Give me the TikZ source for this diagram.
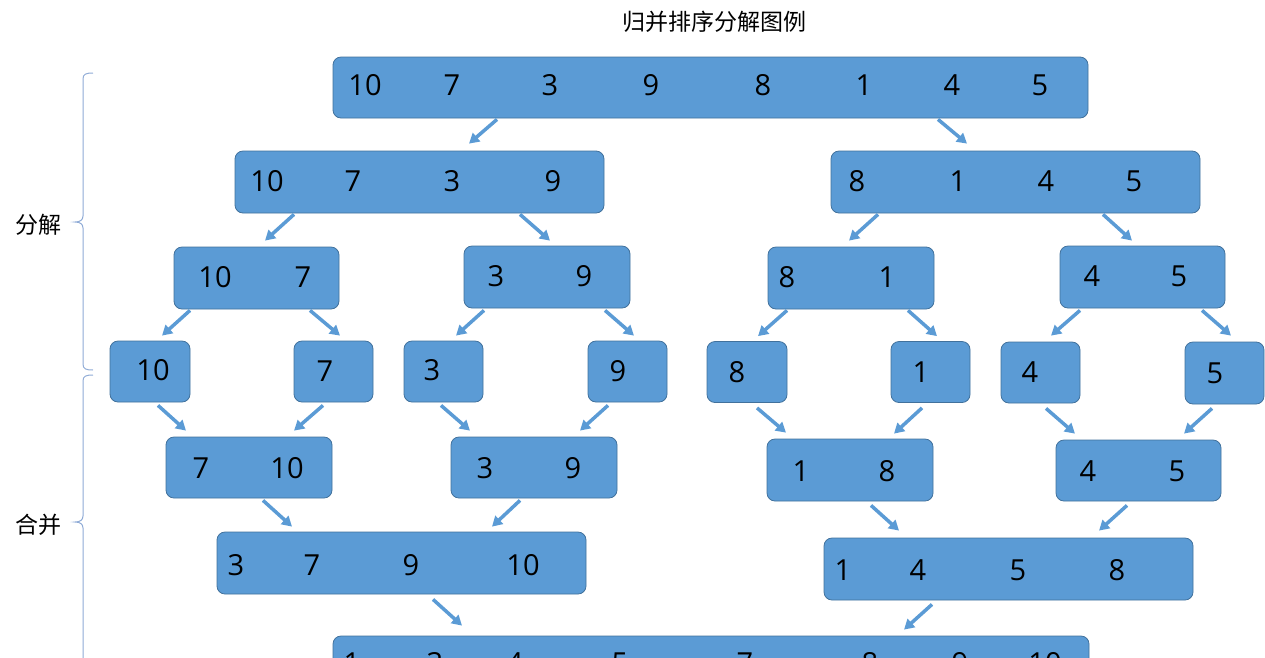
\documentclass[tikz,border=0pt]{standalone}
\usepackage{fontspec}
\newfontfamily\cjk{Noto Sans CJK SC}
\newfontfamily\numfont{Open Sans}
\usetikzlibrary{arrows.meta}
\definecolor{boxfill}{HTML}{5B9BD5}
\definecolor{boxdraw}{HTML}{41719C}
\definecolor{arrcol}{HTML}{5B9BD5}
\definecolor{bracecol}{HTML}{8FABD6}
\tikzset{
 box/.style={draw=boxdraw, fill=boxfill, rounded corners=8pt, line width=0.8pt, inner sep=0pt},
 num/.style={font=\numfont\fontsize{29}{29}\selectfont, inner sep=0pt, text=black},
 arr/.style={draw=arrcol, line width=3.5pt, -{Triangle[length=10pt,width=11pt]}},
 brace/.style={draw=bracecol, line width=1pt},
 lab/.style={font=\cjk\fontsize{23}{23}\selectfont, inner sep=0pt}
}
\newcommand\bx[5]{\node[box, minimum width=#4pt, minimum height=#5pt] (#1) at (#2,#3) {};}
\newcommand\conn[6]{\draw[arr] ([shift={(#2,#3)}]#1.south) -- ([shift={(#5,#6)}]#4.north);}
\begin{document}
\begin{tikzpicture}[x=1pt,y=-1pt]
\useasboundingbox (0,0) rectangle (1265,657);
\clip (0,0) rectangle (1265,657);
% title and labels
\node[lab] (title) at (714,22) {归并排序分解图例};
\node[lab] (lsplit) at (39,225) {分解};
\node[lab] (lmerge) at (39,525) {合并};
% braces
\draw[brace] (93,73) .. controls (86,73) and (83,74) .. (83,79) -- (83,216) .. controls (83,220) and (80,222) .. (75,222) .. controls (80,222) and (83,224) .. (83,228) -- (83,364) .. controls (83,369) and (86,370) .. (93,370);
\draw[brace] (93,375) .. controls (86,375) and (83,376) .. (83,381) -- (83,516) .. controls (83,520) and (80,522) .. (75,522) .. controls (80,522) and (83,524) .. (83,528) -- (83,680);
% boxes
\bx{top}{710.5}{87.5}{755}{61}
\bx{la}{419.5}{182}{369}{62}
\bx{lb}{1015.5}{182}{369}{62}
\bx{ma}{256.5}{278}{165}{62}
\bx{mb}{547}{277}{166}{62}
\bx{mc}{851}{278}{166}{62}
\bx{md}{1142.5}{277}{165}{62}
\bx{sa}{150}{371.5}{80}{61}
\bx{sb}{333.5}{371.5}{79}{61}
\bx{sc}{443.5}{371.5}{79}{61}
\bx{sd}{627.5}{371.5}{79}{61}
\bx{se}{747}{372}{80}{61}
\bx{sf}{930.5}{372}{79}{61}
\bx{sg}{1040.5}{372.5}{79}{61}
\bx{sh}{1224.5}{373}{79}{62}
\bx{ra}{249}{467.5}{166}{61}
\bx{rb}{534}{467.5}{166}{61}
\bx{rc}{850}{470}{166}{62}
\bx{rd}{1138.5}{470.5}{165}{61}
\bx{ua}{401.5}{563}{369}{62}
\bx{ub}{1008.5}{569}{369}{62}
\bx{bot}{711}{670}{756}{68}
% numbers
\foreach \x/\t [count=\i] in {365/10,452/7,550/3,651/9,763/8,864/1,952/4,1040/5} \node[num] (ntop-\i) at (\x,85) {\t};
\foreach \x/\t [count=\i] in {267/10,353/7,452/3,553/9} \node[num] (nla-\i) at (\x,181) {\t};
\foreach \x/\t [count=\i] in {857/8,958/1,1046/4,1134/5} \node[num] (nlb-\i) at (\x,181) {\t};
\foreach \x/\y/\t [count=\i] in {215/277/10,303/277/7,496/276/3,584/276/9,787/277/8,887/277/1,1092/276/4,1179/276/5} \node[num] (nm-\i) at (\x,\y) {\t};
\foreach \x/\y/\t [count=\i] in {153/370/10,325/371/7,432/370/3,618/371/9,737/372/8,921/372/1,1030/372/4,1215/373/5} \node[num] (ns-\i) at (\x,\y) {\t};
\foreach \x/\y/\t [count=\i] in {201/468/7,287/468/10,485/468/3,573/468/9,801/471/1,887/471/8,1088/471/4,1177/471/5} \node[num] (nr-\i) at (\x,\y) {\t};
\foreach \x/\t [count=\i] in {236/3,312/7,411/9,523/10} \node[num] (nua-\i) at (\x,565) {\t};
\foreach \x/\t [count=\i] in {843/1,918/4,1018/5,1117/8} \node[num] (nub-\i) at (\x,570) {\t};
\foreach \x/\t [count=\i] in {352/1,435/3,515/4,620/5,745/7,870/8,960/9,1045/10} \node[num] (nbot-\i) at (\x,663) {\t};
% arrows
\conn{top}{-213.5}{1}{la}{49.5}{-7}
\conn{top}{227.5}{1}{lb}{-48.5}{-7}
\conn{la}{-125.5}{1}{ma}{8.5}{-6}
\conn{la}{100.5}{1}{mb}{3}{-5}
\conn{lb}{-137.5}{1}{mc}{-2}{-6}
\conn{lb}{87.5}{1}{md}{-10.5}{-5}
\conn{ma}{-66.5}{1}{sa}{12}{-5}
\conn{ma}{53.5}{1}{sb}{6.5}{-5}
\conn{mb}{-63}{2}{sc}{12.5}{-5}
\conn{mb}{58}{2}{sd}{6.5}{-5}
\conn{mc}{-64}{1}{se}{11}{-5}
\conn{mc}{57}{1}{sf}{6.5}{-5}
\conn{md}{-62.5}{2}{sg}{10.5}{-6}
\conn{md}{59.5}{2}{sh}{6.5}{-6}
\conn{sa}{8}{3}{ra}{-63}{-6}
\conn{sb}{-10.5}{3}{ra}{45}{-6}
\conn{sc}{-2.5}{3}{rb}{-64}{-6}
\conn{sd}{-19.5}{3}{rb}{46}{-6}
\conn{se}{10}{5}{rc}{-64}{-6}
\conn{sf}{-8.5}{5}{rc}{44}{-5}
\conn{sg}{5.5}{5}{rd}{-63.5}{-6}
\conn{sh}{-12.5}{4}{rd}{45.5}{-6}
\conn{ra}{14}{2}{ua}{-109.5}{-5}
\conn{rb}{-14}{2}{ua}{90.5}{-5}
\conn{rc}{21}{4}{ub}{-109.5}{-7}
\conn{rd}{-11.5}{4}{ub}{90.5}{-7}
\conn{ua}{31.5}{5}{bot}{-249}{-10}
\conn{ub}{-76.5}{4}{bot}{193}{-6}
\end{tikzpicture}
\end{document}
